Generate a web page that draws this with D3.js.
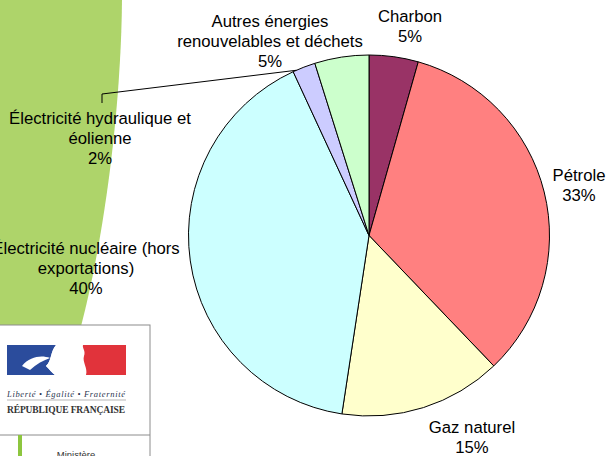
<!DOCTYPE html>
<html>
<head>
<meta charset="utf-8">
<script src="https://cdn.jsdelivr.net/npm/d3@7"></script>
<style>
  html, body { margin: 0; padding: 0; background: #fff; }
  svg { display: block; font-family: "Liberation Sans", Arial, sans-serif; }
</style>
</head>
<body>
<div id="chart"></div>
<script>
// Data (shares of primary energy consumption, %)
const categories = ["Charbon", "Pétrole", "Gaz naturel",
    "Électricité nucléaire (hors exportations)",
    "Électricité hydraulique et éolienne",
    "Autres énergies renouvelables et déchets"];
const values = [4.4, 33.45, 14.55, 40.7, 2.05, 4.85];
const percentLabels = ["5%", "33%", "15%", "40%", "2%", "5%"];
const labelLines = [
    ["Charbon"],
    ["Pétrole"],
    ["Gaz naturel"],
    ["Électricité nucléaire (hors", "exportations)"],
    ["Électricité hydraulique et", "éolienne"],
    ["Autres énergies", "renouvelables et déchets"]
];
const colors = ["#993366", "#FF8080", "#FFFFCC", "#CCFFFF", "#CCCCFF", "#CCFFCC"];

const width = 608;
const height = 456;
const cx = 369, cy = 235.5, radius = 180.5;

// label anchor (centre x, first baseline y), set by hand like in the original
const labelPos = [[410, 22], [579, 181], [472, 433], [86, 254], [100, 124], [270, 27]];
const lineGap = 20;

const svg = d3.select("#chart")
    .append("svg")
    .attr("width", width)
    .attr("height", height);

// green band on the left
svg.append("path")
    .attr("d", "M0,0 L122,0 C121,110 104,240 80,330 L0,330 Z")
    .attr("fill", "#AED46A");

// pie
const pie = d3.pie().sort(null).value(d => d)(values);
const arc = d3.arc().innerRadius(0).outerRadius(radius);

const g = svg.append("g").attr("transform", `translate(${cx},${cy})`);
g.selectAll("path.slice")
    .data(pie)
    .enter()
    .append("path")
    .attr("class", "slice")
    .attr("d", arc)
    .attr("fill", (d, i) => colors[i])
    .attr("stroke", "#000")
    .attr("stroke-width", 1);

// leader line for the hydro slice
const hydro = pie[4];
const a = hydro.startAngle + (hydro.endAngle - hydro.startAngle) * 0.15;
const lx = labelPos[4][0] + 2, ly = labelPos[4][1] - 30;
svg.append("path")
    .attr("d", `M${cx + radius * Math.sin(a)},${cy - radius * Math.cos(a)} L${lx},${ly} L${lx},${ly + 9}`)
    .attr("fill", "none")
    .attr("stroke", "#000")
    .attr("stroke-width", 1);

// labels
const labels = svg.selectAll("text.label")
    .data(categories)
    .enter()
    .append("text")
    .attr("class", "label")
    .attr("text-anchor", "middle")
    .style("font-size", "16.7px")
    .style("fill", "#000");

labels.selectAll("tspan")
    .data((d, i) => labelLines[i].concat([percentLabels[i]]).map(t => ({ t, i })))
    .enter()
    .append("tspan")
    .attr("x", d => labelPos[d.i][0])
    .attr("y", (d, j) => labelPos[d.i][1] + j * lineGap)
    .text(d => d.t);

// Marianne logo block (bottom left)
const logo = svg.append("g");
logo.append("rect")
    .attr("x", -1).attr("y", 325)
    .attr("width", 151).attr("height", 140)
    .attr("fill", "#fff")
    .attr("stroke", "#8c8c8c");
logo.append("path")
    .attr("d", "M7,345 L56,345 C50,352 52,360 46,366 C50,370 52,373 55,375 L7,375 Z")
    .attr("fill", "#2B4C9C");
logo.append("path")
    .attr("d", "M83,345 L126,345 L126,375 L86,375 C88,368 82,362 84,356 C86,351 82,348 83,345 Z")
    .attr("fill", "#E1333B");
logo.append("path")
    .attr("d", "M22,366 C30,356 42,355 50,358 C44,360 36,364 30,370 Z")
    .attr("fill", "#fff");
logo.append("path")
    .attr("d", "M56,345 C60,350 66,352 70,350 C74,356 72,364 66,370 C62,372 58,374 55,375 C52,373 50,370 46,366 C52,360 50,352 56,345 Z")
    .attr("fill", "#fff");
logo.append("text")
    .attr("x", 66).attr("y", 396.5)
    .attr("text-anchor", "middle")
    .attr("textLength", 118)
    .style("font-family", "'Liberation Serif', 'DejaVu Serif', serif")
    .style("font-style", "italic")
    .style("font-size", "8.5px")
    .style("fill", "#2a3550")
    .text("Liberté • Égalité • Fraternité");
logo.append("line")
    .attr("x1", 7).attr("x2", 126).attr("y1", 400).attr("y2", 400)
    .attr("stroke", "#999").attr("stroke-width", 0.7);
logo.append("text")
    .attr("x", 66).attr("y", 413)
    .attr("text-anchor", "middle")
    .attr("textLength", 118)
    .style("font-family", "'Liberation Serif', 'DejaVu Serif', serif")
    .style("font-weight", "bold")
    .style("font-size", "9.5px")
    .style("fill", "#333")
    .text("RÉPUBLIQUE FRANÇAISE");
logo.append("line")
    .attr("x1", 0).attr("x2", 150).attr("y1", 435).attr("y2", 435)
    .attr("stroke", "#8c8c8c");
logo.append("rect")
    .attr("x", 18).attr("y", 435).attr("width", 4).attr("height", 25)
    .attr("fill", "#8DC63F");
logo.append("text")
    .attr("x", 76).attr("y", 458)
    .attr("text-anchor", "middle")
    .style("font-size", "9.5px")
    .style("fill", "#333")
    .text("Ministère");
</script>
</body>
</html>
